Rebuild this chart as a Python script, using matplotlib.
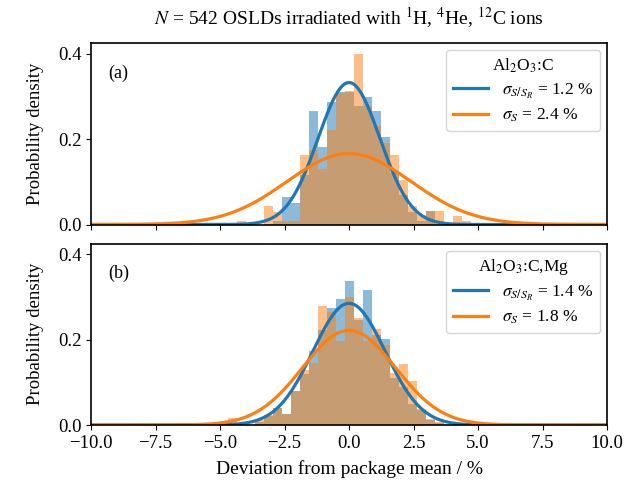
import numpy as np
import matplotlib
matplotlib.use("Agg")
import matplotlib.pyplot as plt

plt.rcParams['font.family'] = ['Liberation Serif', 'DejaVu Serif']
plt.rcParams['mathtext.fontset'] = 'stix'

# histogram bins (index of bin, bin width in %)
bin_index = list(range(-13, 14))
bin_width = 0.35
bin_shift = 0.02

# (a) Al2O3:C
a_ratio = [0, 0, 0, 0, 0, 0.008, 0.065, 0.051, 0.115, 0.265, 0.182, 0.287, 0.31, 0.31,
           0.277, 0.299, 0.265, 0.205, 0.12, 0.07, 0.03, 0.008, 0.031, 0, 0, 0, 0]
a_signal = [0, 0.008, 0, 0, 0.043, 0.030, 0.008, 0.008, 0.162, 0.174, 0.129, 0.222, 0.307, 0.313,
            0.40, 0.277, 0.23, 0.19, 0.162, 0.104, 0.044, 0.022, 0.031, 0.031, 0, 0.0195, 0.008]

# (b) Al2O3:C,Mg
b_ratio = [0, 0, 0, 0.008, 0.02, 0.04, 0.025, 0.08, 0.12, 0.173, 0.223, 0.273, 0.295, 0.337,
           0.246, 0.316, 0.21, 0.202, 0.11, 0.088, 0.05, 0.035, 0.012, 0.005, 0, 0, 0]
b_signal = [0.017, 0, 0, 0.012, 0.023, 0.04, 0.025, 0.08, 0.128, 0.145, 0.278, 0.265, 0.197, 0.301,
            0.25, 0.197, 0.226, 0.187, 0.122, 0.143, 0.102, 0.038, 0.015, 0.008, 0, 0, 0]

materials = ["Al$_2$O$_3$:C", "Al$_2$O$_3$:C,Mg"]
panel_labels = ["(a)", "(b)"]
sigma_ratio = [1.2, 1.4]
sigma_signal = [2.4, 1.8]
hist_ratio = [a_ratio, b_ratio]
hist_signal = [a_signal, b_signal]

fig, axes = plt.subplots(2, 1, figsize=(6.39, 4.95), dpi=100, sharex=True, sharey=True)
fig.subplots_adjust(left=0.1424, right=0.950, top=0.913, bottom=0.1414, hspace=0.105)

centers = np.array(bin_index) * bin_width + bin_shift
xs = np.linspace(-10, 10, 801)

for i, ax in enumerate(axes):
    ax.bar(centers, hist_ratio[i], width=bin_width, color='C0', alpha=0.5, linewidth=0)
    ax.bar(centers, hist_signal[i], width=bin_width, color='C1', alpha=0.5, linewidth=0)

    s1 = sigma_ratio[i]
    s2 = sigma_signal[i]
    ax.plot(xs, np.exp(-0.5 * (xs / s1) ** 2) / (s1 * np.sqrt(2 * np.pi)), color='C0', lw=2.3,
            label=r"$\sigma_{S/S_R}$ = %.1f %%" % s1)
    ax.plot(xs, np.exp(-0.5 * (xs / s2) ** 2) / (s2 * np.sqrt(2 * np.pi)), color='C1', lw=2.3,
            label=r"$\sigma_S$ = %.1f %%" % s2)

    ax.legend(title=materials[i], loc='upper right', fontsize=12.5, title_fontsize=12.5,
              handlelength=2.0, borderaxespad=0.4, labelspacing=0.35)
    ax.text(0.033, 0.81, panel_labels[i], transform=ax.transAxes, fontsize=13)
    ax.set_ylabel("Probability density", fontsize=13.5, labelpad=10)
    ax.tick_params(labelsize=13.5)
    for sp in ax.spines.values():
        sp.set_linewidth(1.2)

axes[0].set_xlim(-10, 10)
axes[0].set_ylim(0, 0.425)
axes[0].set_yticks([0.0, 0.2, 0.4])
axes[1].set_xlabel("Deviation from package mean / %", fontsize=14, labelpad=6)

fig.suptitle(r"$N$ = 542 OSLDs irradiated with $^{1}$H, $^{4}$He, $^{12}$C ions", fontsize=14, x=0.5465, y=0.99)

plt.savefig("out.png", dpi=100)
